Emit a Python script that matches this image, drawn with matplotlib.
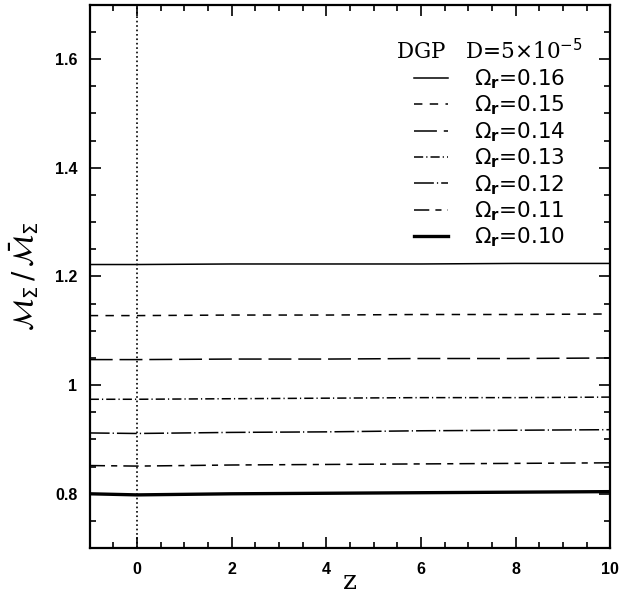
import numpy as np
import matplotlib.pyplot as plt
from matplotlib.ticker import MultipleLocator

# redshift samples
z = [-1, 0, 2, 4, 6, 8, 10]

# M_Sigma / Mbar_Sigma for each Omega_r
omega_r = ['0.16', '0.15', '0.14', '0.13', '0.12', '0.11', '0.10']
m16 = [1.222, 1.222, 1.223, 1.223, 1.223, 1.224, 1.224]
m15 = [1.128, 1.128, 1.129, 1.129, 1.130, 1.130, 1.131]
m14 = [1.047, 1.047, 1.048, 1.048, 1.049, 1.049, 1.050]
m13 = [0.974, 0.974, 0.975, 0.976, 0.977, 0.977, 0.978]
m12 = [0.912, 0.911, 0.913, 0.914, 0.916, 0.917, 0.918]
m11 = [0.852, 0.851, 0.853, 0.854, 0.855, 0.856, 0.857]
m10 = [0.800, 0.798, 0.800, 0.801, 0.802, 0.803, 0.804]
curves = [m16, m15, m14, m13, m12, m11, m10]

styles = [
    dict(ls='-', lw=1.1),
    dict(ls=(0, (5.5, 4.8)), lw=1.1),
    dict(ls=(0, (15, 4.5)), lw=1.1),
    dict(ls=(0, (6, 2.0, 0.8, 2.0)), lw=1.1),
    dict(ls=(0, (13, 2.0, 0.8, 2.0)), lw=1.1),
    dict(ls=(0, (10, 4.0, 4.0, 4.0)), lw=1.1),
    dict(ls='-', lw=2.4),
]

fig = plt.figure(figsize=(6.41, 6.03), dpi=100)
ax = fig.add_axes([0.140, 0.091, 0.812, 0.901])

for lab, m, st in zip(omega_r, curves, styles):
    ax.plot(z, m, color='black', label=r'$\Omega_{\mathbf{r}}$=' + lab, **st)

ax.axvline(0, color='black', ls=':', lw=1.2)

ax.set_xlim(-1, 10)
ax.set_ylim(0.7, 1.7)
ax.xaxis.set_major_locator(MultipleLocator(2))
ax.xaxis.set_minor_locator(MultipleLocator(0.5))
ax.yaxis.set_major_locator(MultipleLocator(0.2))
ax.yaxis.set_minor_locator(MultipleLocator(0.05))
ax.tick_params(which='both', direction='in', top=True, right=True, width=1.2)
ax.tick_params(which='major', length=8)
ax.tick_params(which='minor', length=4)
ax.set_yticks([0.8, 1.0, 1.2, 1.4, 1.6])
ax.set_yticklabels(['0.8', '1', '1.2', '1.4', '1.6'])
for t in ax.get_xticklabels() + ax.get_yticklabels():
    t.set_fontfamily('Liberation Sans')
    t.set_fontweight('bold')
    t.set_fontsize(11.5)
ax.tick_params(axis='x', pad=10)
ax.tick_params(axis='y', pad=9)
for s in ax.spines.values():
    s.set_linewidth(1.6)

ax.set_xlabel('z', family='DejaVu Serif', fontsize=19, labelpad=-6)
ax.set_ylabel(r'$\mathcal{M}_\Sigma\,/\,\bar{\mathcal{M}}_\Sigma$', fontsize=20, labelpad=10)

leg = ax.legend(loc='upper right', bbox_to_anchor=(0.985, 0.972), frameon=False,
                fontsize=15.5, handlelength=1.55, handletextpad=1.2, labelspacing=0.13,
                title=r'DGP   D=5$\times$10$^{-5}$', title_fontsize=15.5)
leg.get_title().set_family('DejaVu Serif')

fig.savefig('out.png', dpi=100)
